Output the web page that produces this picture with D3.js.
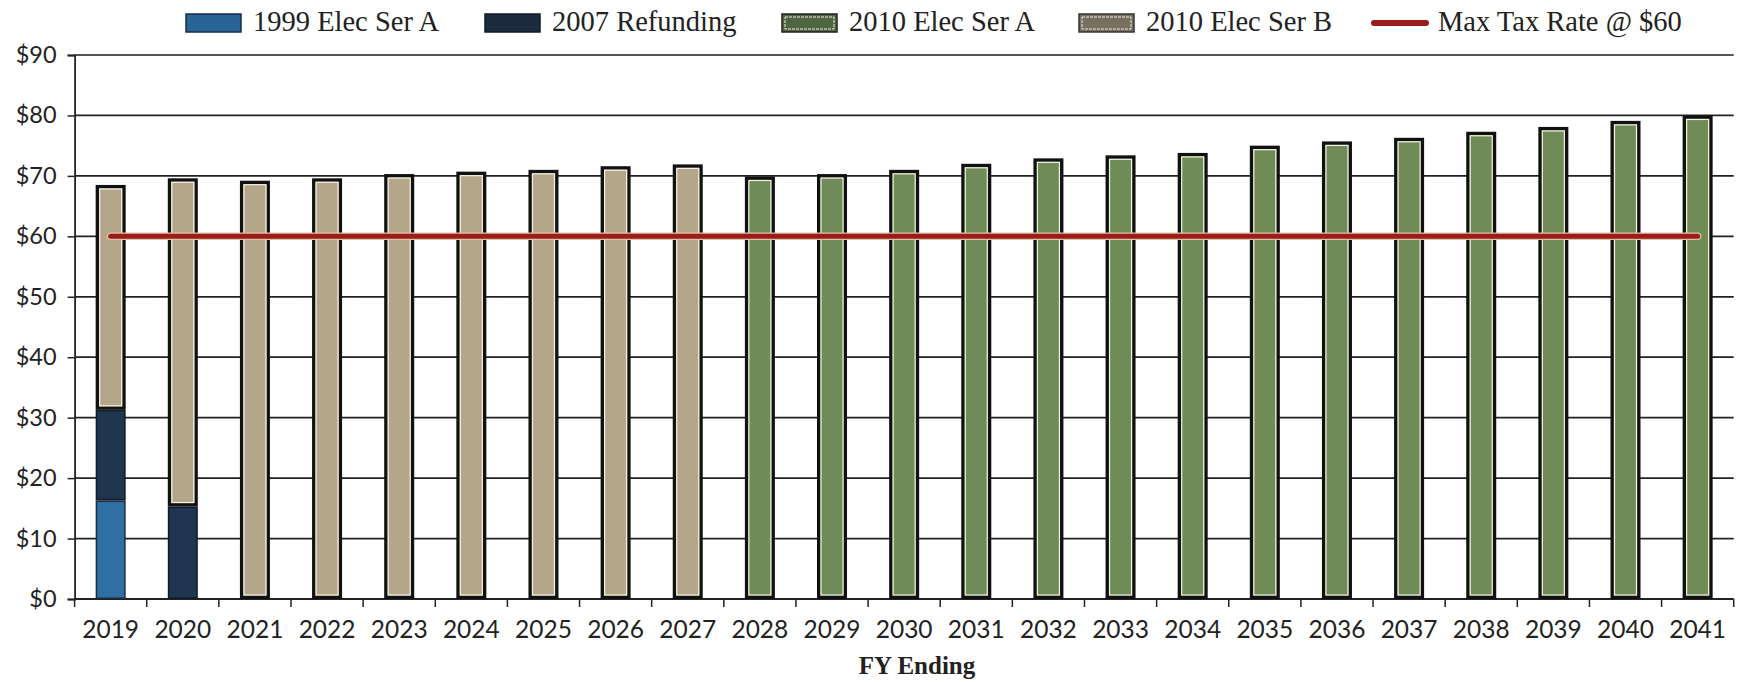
<!DOCTYPE html>
<html>
<head>
<meta charset="utf-8">
<script src="https://cdn.jsdelivr.net/npm/d3@7/dist/d3.min.js"></script>
<style>
  html, body { margin: 0; padding: 0; background: #ffffff; }
  svg { display: block; }
</style>
</head>
<body>
<svg id="chart" width="1737" height="682"></svg>
<script>
// Fiscal years on the x axis
const years = ["2019","2020","2021","2022","2023","2024","2025","2026","2027","2028","2029","2030",
               "2031","2032","2033","2034","2035","2036","2037","2038","2039","2040","2041"];

// Debt service tax rate by bond series ($ per year)
const ser1999A  = [16.3, 0, 0, 0, 0, 0, 0, 0, 0, 0, 0, 0, 0, 0, 0, 0, 0, 0, 0, 0, 0, 0, 0];
const ref2007   = [15.0, 15.3, 0, 0, 0, 0, 0, 0, 0, 0, 0, 0, 0, 0, 0, 0, 0, 0, 0, 0, 0, 0, 0];
const ser2010A  = [0, 0, 0, 0, 0, 0, 0, 0, 0, 69.9, 70.3, 71.0, 72.0, 72.9, 73.4, 73.8, 75.0, 75.7, 76.3, 77.3, 78.1, 79.1, 80.0];
const ser2010B  = [37.2, 54.3, 69.2, 69.6, 70.3, 70.7, 71.0, 71.6, 71.9, 0, 0, 0, 0, 0, 0, 0, 0, 0, 0, 0, 0, 0, 0];
const maxTaxRate = [60, 60, 60, 60, 60, 60, 60, 60, 60, 60, 60, 60, 60, 60, 60, 60, 60, 60, 60, 60, 60, 60, 60];

// Y axis ticks
const yTicks = [0, 10, 20, 30, 40, 50, 60, 70, 80, 90];

const seriesInfo = [
  { key: "1999 Elec Ser A", values: ser1999A, fill: "#2f6fa3", stroke: "#1b2c40", sw: 1.5, inner: false },
  { key: "2007 Refunding",  values: ref2007,  fill: "#1f3550", stroke: "#111a26", sw: 1.5, inner: false },
  { key: "2010 Elec Ser A", values: ser2010A, fill: "#6f8b57", stroke: "#111111", sw: 3.4, inner: true  },
  { key: "2010 Elec Ser B", values: ser2010B, fill: "#b3a689", stroke: "#111111", sw: 3.4, inner: true  }
];

const rows = years.map((yr, i) => {
  const r = { year: yr };
  seriesInfo.forEach(s => { r[s.key] = s.values[i]; });
  return r;
});

const svg = d3.select("#chart");
const plot = { left: 74.6, right: 1733.7, top: 55, bottom: 599 };

const x = d3.scaleBand()
  .domain(years)
  .range([plot.left, plot.right])
  .paddingInner(0.584)
  .paddingOuter(0.292);

const y = d3.scaleLinear()
  .domain([0, 90])
  .range([plot.bottom, plot.top]);

const serif = "'Liberation Serif', 'DejaVu Serif', serif";
const tickFont = "Lato, 'Open Sans', sans-serif";

// Horizontal gridlines
svg.append("g")
  .selectAll("line")
  .data(yTicks.filter(d => d > 0))
  .join("line")
  .attr("x1", plot.left)
  .attr("x2", plot.right)
  .attr("y1", d => y(d))
  .attr("y2", d => y(d))
  .attr("stroke", d => d === 90 ? "#555" : "#222")
  .attr("stroke-width", d => d === 90 ? 2 : 1.8);

// Y axis
const yAxis = svg.append("g")
  .attr("transform", `translate(${plot.left},0)`)
  .call(d3.axisLeft(y).tickValues(yTicks).tickSize(7).tickPadding(11).tickFormat(d => "$" + d));
yAxis.select(".domain").attr("stroke", "#222").attr("stroke-width", 1.8);
yAxis.selectAll(".tick line").attr("stroke", "#222").attr("stroke-width", 1.5);
yAxis.selectAll("text")
  .attr("font-family", tickFont)
  .attr("font-size", 23.5)
  .attr("fill", "#222");

// X axis with ticks between categories
const step = x.step();
svg.append("line")
  .attr("x1", plot.left).attr("x2", plot.right)
  .attr("y1", y(0)).attr("y2", y(0))
  .attr("stroke", "#222").attr("stroke-width", 2);

const boundaries = years.map(d => x(d) - (step - x.bandwidth()) / 2).concat([plot.right]);
svg.append("g")
  .selectAll("line")
  .data(boundaries)
  .join("line")
  .attr("x1", d => d).attr("x2", d => d)
  .attr("y1", y(0)).attr("y2", y(0) + 8)
  .attr("stroke", "#222").attr("stroke-width", 1.5);

svg.append("g")
  .selectAll("text")
  .data(years)
  .join("text")
  .attr("x", d => x(d) + x.bandwidth() / 2)
  .attr("y", 632)
  .attr("text-anchor", "middle")
  .attr("dominant-baseline", "middle")
  .attr("font-family", tickFont)
  .attr("font-size", 24.5)
  .attr("fill", "#222")
  .text(d => d);

// Axis title
svg.append("text")
  .attr("x", 917)
  .attr("y", 668)
  .attr("text-anchor", "middle")
  .attr("dominant-baseline", "middle")
  .attr("font-family", serif)
  .attr("font-weight", "bold")
  .attr("font-size", 25)
  .attr("fill", "#222")
  .text("FY Ending");

// Stacked bars
const stacked = d3.stack().keys(seriesInfo.map(s => s.key))(rows);
const bars = svg.append("g");
stacked.forEach((layer, li) => {
  const s = seriesInfo[li];
  const segs = layer.filter(d => d[1] - d[0] > 0);
  const g = bars.append("g");
  g.selectAll("rect.seg")
    .data(segs)
    .join("rect")
    .attr("class", "seg")
    .attr("x", d => x(d.data.year) + s.sw / 2)
    .attr("width", x.bandwidth() - s.sw)
    .attr("y", d => y(d[1]) + s.sw / 2)
    .attr("height", d => Math.max(0, y(d[0]) - y(d[1]) - s.sw))
    .attr("fill", s.fill)
    .attr("stroke", s.stroke)
    .attr("stroke-width", s.sw);
  if (s.inner) {
    g.selectAll("rect.inner")
      .data(segs)
      .join("rect")
      .attr("class", "inner")
      .attr("x", d => x(d.data.year) + s.sw + 0.6)
      .attr("width", x.bandwidth() - 2 * s.sw - 1.2)
      .attr("y", d => y(d[1]) + s.sw + 0.6)
      .attr("height", d => Math.max(0, y(d[0]) - y(d[1]) - 2 * s.sw - 1.2))
      .attr("fill", "none")
      .attr("stroke", "#f4f1e6")
      .attr("stroke-width", 1.2);
  }
});

// Max tax rate line
const line = d3.line()
  .x((d, i) => x(years[i]) + x.bandwidth() / 2)
  .y(d => y(d));
svg.append("path")
  .datum(maxTaxRate)
  .attr("d", line)
  .attr("fill", "none")
  .attr("stroke", "#e2c29c")
  .attr("stroke-width", 7.5)
  .attr("stroke-linecap", "round");
svg.append("path")
  .datum(maxTaxRate)
  .attr("d", line)
  .attr("fill", "none")
  .attr("stroke", "#9b1c1e")
  .attr("stroke-width", 5)
  .attr("stroke-linecap", "round");

// Legend
const legendItems = [
  { label: "1999 Elec Ser A",    type: "rect", fill: "#2a6496", stroke: "#1b2c40", inner: false, x: 186 },
  { label: "2007 Refunding",     type: "rect", fill: "#1c2c3e", stroke: "#111a26", inner: false, x: 485 },
  { label: "2010 Elec Ser A",    type: "rect", fill: "#4f6440", stroke: "#222",    inner: true,  x: 782 },
  { label: "2010 Elec Ser B",    type: "rect", fill: "#776f5f", stroke: "#333",    inner: true,  x: 1079 },
  { label: "Max Tax Rate @ $60", type: "line", fill: "#9b1c1e", stroke: "#9b1c1e", inner: false, x: 1371 }
];
const legendY = 23;
const lg = svg.append("g");
legendItems.forEach(item => {
  if (item.type === "rect") {
    lg.append("rect")
      .attr("x", item.x).attr("y", legendY - 9)
      .attr("width", 55).attr("height", 18)
      .attr("fill", item.fill)
      .attr("stroke", item.stroke).attr("stroke-width", 1.5);
    if (item.inner) {
      lg.append("rect")
        .attr("x", item.x + 3).attr("y", legendY - 6)
        .attr("width", 49).attr("height", 12)
        .attr("fill", "none")
        .attr("stroke", "#eeeae0").attr("stroke-width", 1)
        .attr("stroke-dasharray", "3,1");
    }
  } else {
    lg.append("line")
      .attr("x1", item.x + 3).attr("x2", item.x + 55)
      .attr("y1", legendY).attr("y2", legendY)
      .attr("stroke", item.fill).attr("stroke-width", 6)
      .attr("stroke-linecap", "round");
  }
  lg.append("text")
    .attr("x", item.x + 67)
    .attr("y", legendY + 1)
    .attr("dominant-baseline", "middle")
    .attr("font-family", serif)
    .attr("font-size", 28.5)
    .attr("fill", "#222")
    .text(item.label);
});
</script>
</body>
</html>
